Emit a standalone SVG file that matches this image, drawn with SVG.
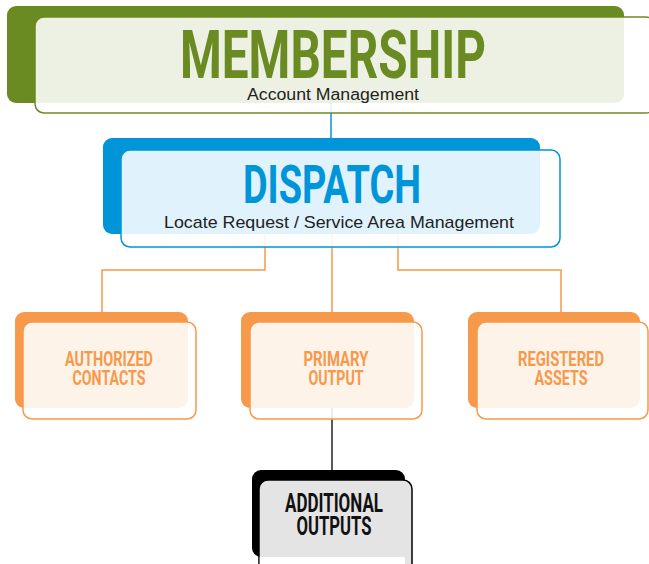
<svg xmlns="http://www.w3.org/2000/svg" width="649" height="564" viewBox="0 0 649 564">
<style>
.front{fill:#ffffff;fill-opacity:0.88;stroke-width:1.5}
.title{font-family:"Roboto","Liberation Sans",sans-serif;font-weight:bold;text-anchor:middle}
.sub{font-family:"Liberation Sans","Arial",sans-serif;text-anchor:middle;fill:#222}
.lbl{font-family:"Roboto","Liberation Sans",sans-serif;font-weight:bold;text-anchor:middle;font-size:20px}
.conn{fill:none;stroke-width:1.5}
</style>
<rect width="649" height="564" fill="#ffffff"/>
<g id="connectors">
<path class="conn" d="M331,103 V138" stroke="#0095d9"/>
<path class="conn" d="M265,234 V270 H102 V312" stroke="#f7994a"/>
<path class="conn" d="M332,234 V312" stroke="#f7994a"/>
<path class="conn" d="M398,234 V270 H561 V312" stroke="#f7994a"/>
<path class="conn" d="M332,408 V470" stroke="#222" stroke-width="2"/>
</g>
<g id="membership">
<rect x="7" y="6" width="617" height="97" rx="9" fill="#6a8a22"/>
<rect class="front" x="35" y="17" width="620" height="96" rx="9" stroke="#6a8a22"/>
<text class="title" x="333" y="78" font-size="66" fill="#6a8a22" textLength="306" lengthAdjust="spacingAndGlyphs">MEMBERSHIP</text>
<text class="sub" x="333" y="100" font-size="16" textLength="172" lengthAdjust="spacingAndGlyphs">Account Management</text>
</g>
<g id="dispatch">
<rect x="103" y="138" width="437" height="96" rx="9" fill="#0095d9"/>
<rect class="front" x="121" y="150" width="439" height="97" rx="9" stroke="#0095d9"/>
<text class="title" x="332" y="203" font-size="53" fill="#0095d9" textLength="178" lengthAdjust="spacingAndGlyphs">DISPATCH</text>
<text class="sub" x="339" y="228" font-size="17" textLength="350" lengthAdjust="spacingAndGlyphs">Locate Request / Service Area Management</text>
</g>
<g id="authorized-contacts">
<rect x="15" y="312" width="173" height="96" rx="9" fill="#f7994a"/>
<rect class="front" x="23" y="322" width="173" height="97" rx="9" stroke="#f7994a"/>
<text class="lbl" x="109" y="366" fill="#f7994a" textLength="88" lengthAdjust="spacingAndGlyphs">AUTHORIZED</text>
<text class="lbl" x="109" y="385" fill="#f7994a" textLength="73" lengthAdjust="spacingAndGlyphs">CONTACTS</text>
</g>
<g id="primary-output">
<rect x="241" y="312" width="173" height="96" rx="9" fill="#f7994a"/>
<rect class="front" x="250" y="322" width="172" height="97" rx="9" stroke="#f7994a"/>
<text class="lbl" x="336" y="366" fill="#f7994a" textLength="65" lengthAdjust="spacingAndGlyphs">PRIMARY</text>
<text class="lbl" x="336" y="385" fill="#f7994a" textLength="55" lengthAdjust="spacingAndGlyphs">OUTPUT</text>
</g>
<g id="registered-assets">
<rect x="468" y="312" width="172" height="96" rx="9" fill="#f7994a"/>
<rect class="front" x="477" y="322" width="171" height="97" rx="9" stroke="#f7994a"/>
<text class="lbl" x="561" y="366" fill="#f7994a" textLength="86" lengthAdjust="spacingAndGlyphs">REGISTERED</text>
<text class="lbl" x="561" y="385" fill="#f7994a" textLength="53" lengthAdjust="spacingAndGlyphs">ASSETS</text>
</g>
<g id="additional-outputs">
<rect x="252" y="470" width="153" height="87" rx="9" fill="#000000"/>
<rect class="front" x="259" y="480" width="153" height="96" rx="9" stroke="#000000" style="fill:#e4e4e4;fill-opacity:1"/>
<rect x="259.75" y="557" width="145.25" height="18" fill="#ffffff"/>
<text class="lbl" x="334" y="512" font-size="25" fill="#111" style="font-size:25px" textLength="98" lengthAdjust="spacingAndGlyphs">ADDITIONAL</text>
<text class="lbl" x="334" y="535" fill="#111" style="font-size:25px" textLength="75" lengthAdjust="spacingAndGlyphs">OUTPUTS</text>
</g>
</svg>
